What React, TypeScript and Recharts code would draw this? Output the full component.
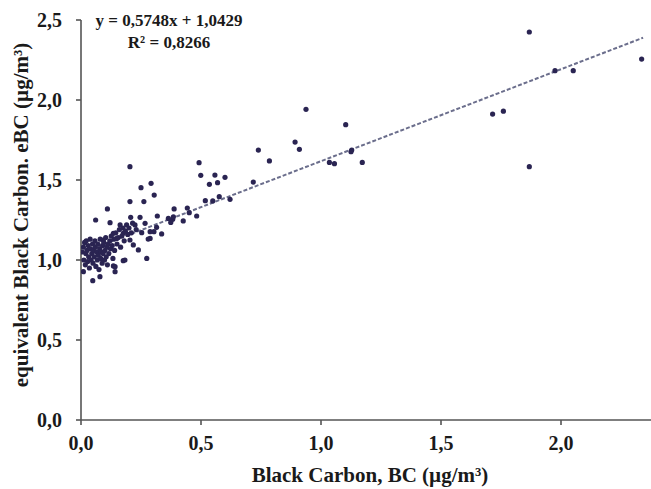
import React from "react";
import { ScatterChart, Scatter, XAxis, YAxis, ReferenceLine } from "recharts";

const bcValues: number[] = [
  1.868, 1.975, 2.051, 2.336, 1.715, 1.76, 1.868,
  0.9375, 1.103, 0.892, 0.91, 1.128, 1.125, 1.035, 1.056, 1.172,
  0.739, 0.785, 0.492, 0.499, 0.558, 0.6, 0.535, 0.569, 0.718, 0.576, 0.621, 0.518, 0.549,
  0.292, 0.305, 0.388, 0.443, 0.451, 0.482, 0.318, 0.364, 0.382, 0.374, 0.426, 0.315, 0.304, 0.336, 0.288,
  0.204, 0.25, 0.204, 0.262, 0.11, 0.061,
  0.207, 0.246, 0.121, 0.163, 0.225, 0.267, 0.288, 0.253, 0.176, 0.135, 0.149, 0.093, 0.204, 0.218, 0.28, 0.239, 0.274, 0.176, 0.135, 0.142, 0.079, 0.049, 0.01, 0.183, 0.142, 0.385,
  0.005, 0.01, 0.012, 0.015, 0.018, 0.02, 0.022, 0.025, 0.028, 0.03, 0.032, 0.035, 0.038, 0.04, 0.042, 0.045, 0.048, 0.05, 0.052, 0.055, 0.058, 0.06, 0.062, 0.065, 0.068, 0.07, 0.072, 0.075, 0.078, 0.08, 0.082, 0.085, 0.088, 0.09, 0.092, 0.095, 0.098, 0.1, 0.103, 0.105, 0.108, 0.11, 0.113, 0.116, 0.12, 0.123, 0.126, 0.13, 0.133, 0.137, 0.14, 0.145, 0.15, 0.155, 0.16, 0.165, 0.17, 0.175, 0.18, 0.185, 0.19, 0.195, 0.2, 0.21, 0.215, 0.23,
];

const ebcValues: number[] = [
  2.425, 2.183, 2.183, 2.256, 1.912, 1.93, 1.583,
  1.942, 1.846, 1.737, 1.692, 1.687, 1.677, 1.61, 1.602, 1.61,
  1.687, 1.619, 1.608, 1.529, 1.531, 1.517, 1.473, 1.483, 1.487, 1.396, 1.379, 1.371, 1.369,
  1.479, 1.406, 1.319, 1.325, 1.296, 1.275, 1.275, 1.26, 1.254, 1.235, 1.244, 1.204, 1.177, 1.163, 1.135,
  1.583, 1.452, 1.365, 1.365, 1.319, 1.25,
  1.267, 1.267, 1.233, 1.219, 1.219, 1.229, 1.177, 1.171, 1.167, 1.167, 1.135, 1.125, 1.125, 1.094, 1.131, 1.063, 1.01, 0.996, 0.963, 0.927, 0.896, 0.871, 0.927, 1.0, 0.958, 1.27,
  1.05, 1.08, 1.0, 1.11, 0.97, 1.04, 1.12, 1.06, 0.99, 1.09, 1.02, 0.95, 1.13, 1.07, 1.0, 1.04, 1.1, 0.98, 1.06, 1.02, 1.12, 1.08, 0.96, 1.05, 1.0, 1.1, 1.03, 0.94, 1.07, 1.13, 1.01, 1.05, 0.98, 1.09, 1.04, 1.11, 1.0, 1.06, 1.14, 1.02, 1.08, 0.97, 1.1, 1.04, 1.12, 1.07, 1.15, 1.09, 1.01, 1.13, 1.06, 1.17, 1.1, 1.14, 1.19, 1.08, 1.15, 1.2, 1.12, 1.18, 1.22, 1.16, 1.2, 1.17, 1.23, 1.19,
];

const xTicks: number[] = [0, 0.5, 1.0, 1.5, 2.0];
const yTicks: number[] = [0, 0.5, 1.0, 1.5, 2.0, 2.5];

const slope = 0.5748;
const intercept = 1.0429;
const trendX: number[] = [0, 2.342];

const points = bcValues.map((x, i) => ({ x, y: ebcValues[i] }));
const trendSegment = trendX.map((x) => ({ x, y: intercept + slope * x }));

const FONT = '"Liberation Serif", "Times New Roman", serif';
const fmt = (v: number) => v.toFixed(1).replace(".", ",");

const Dot = (props: any) => (
  <circle cx={props.cx} cy={props.cy} r={2.6} fill="#2a2452" />
);

export default function App() {
  return (
    <div style={{ position: "absolute", left: 0, top: 0, width: 651, height: 489, background: "#fff" }}>
      <ScatterChart width={651} height={489} margin={{ top: 20, right: 0, bottom: 0, left: 0 }}>
        <XAxis
          type="number"
          dataKey="x"
          domain={[0, 2.375]}
          allowDataOverflow
          ticks={xTicks}
          tickFormatter={fmt}
          height={69}
          tickSize={5}
          tickMargin={11}
          stroke="#555"
          strokeWidth={1.6}
          tick={{ fill: "#1a1a1a", fontFamily: FONT, fontWeight: 700, fontSize: 20 }}
          label={{
            content: (p: any) => {
              const vb = p.viewBox;
              return (
                <text
                  x={vb.x + vb.width / 2 + 4}
                  y={482}
                  textAnchor="middle"
                  fontFamily={FONT}
                  fontWeight={700}
                  fontSize={21}
                  fill="#1a1a1a"
                >
                  Black Carbon, BC (µg/m³)
                </text>
              );
            },
          }}
        />
        <YAxis
          type="number"
          dataKey="y"
          domain={[0, 2.5]}
          ticks={yTicks}
          tickFormatter={fmt}
          width={81}
          tickSize={5}
          tickMargin={14}
          stroke="#555"
          strokeWidth={1.6}
          tick={{ fill: "#1a1a1a", fontFamily: FONT, fontWeight: 700, fontSize: 20 }}
          label={{
            content: () => (
              <text
                x={0}
                y={0}
                transform="translate(28,215) rotate(-90)"
                textAnchor="middle"
                fontFamily={FONT}
                fontWeight={700}
                fontSize={21}
                fill="#1a1a1a"
              >
                equivalent Black Carbon. eBC (µg/m³)
              </text>
            ),
          }}
        />
        <ReferenceLine
          segment={trendSegment}
          stroke="#6b6e8c"
          strokeWidth={2}
          strokeDasharray="4 2"
          ifOverflow="visible"
        />
        <Scatter data={points} shape={Dot} isAnimationActive={false} />
      </ScatterChart>
      <div
        style={{
          position: "absolute",
          left: 169,
          top: 10,
          transform: "translateX(-50%)",
          whiteSpace: "nowrap",
          fontFamily: FONT,
          fontWeight: 700,
          fontSize: 17,
          lineHeight: "22px",
          color: "#1a1a1a",
          textAlign: "center",
        }}
      >
        <div>y = 0,5748x + 1,0429</div>
        <div>R² = 0,8266</div>
      </div>
    </div>
  );
}
